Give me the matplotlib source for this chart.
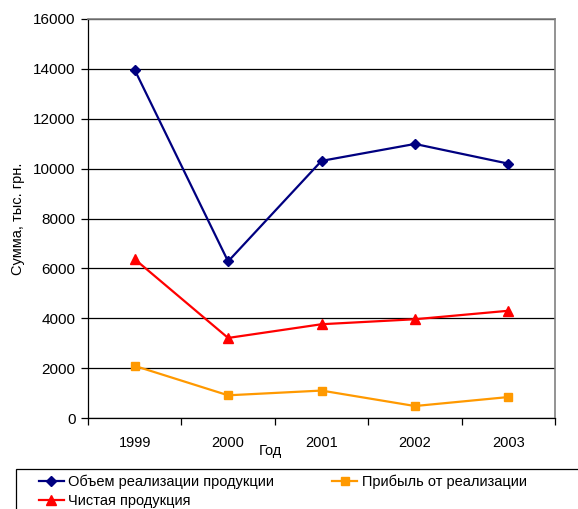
import matplotlib.pyplot as plt
from matplotlib.patches import Rectangle
from matplotlib.ticker import FixedLocator, NullFormatter

plt.rcParams['font.family'] = ['Liberation Sans', 'DejaVu Sans']

# Data
years = ['1999', '2000', '2001', '2002', '2003']
sales_volume = [13960, 6280, 10310, 10990, 10200]
sales_profit = [2090, 910, 1100, 480, 840]
net_output = [6370, 3210, 3760, 3960, 4300]

W, H = 578, 509
fig = plt.figure(figsize=(W / 100, H / 100), dpi=100)
ax = fig.add_axes([88 / W, 1 - 418 / H, (555 - 88) / W, (418 - 19) / H])

x = list(range(len(years)))
l1, = ax.plot(x, sales_volume, color='#000080', lw=1.6, marker='D', ms=5,
              label='Объем реализации продукции')
l2, = ax.plot(x, sales_profit, color='#FF9900', lw=1.6, marker='s', ms=6,
              label='Прибыль от реализации')
l3, = ax.plot(x, net_output, color='#FF0000', lw=1.6, marker='^', ms=7,
              label='Чистая продукция')

ax.set_xlim(-0.5, len(years) - 0.5)
ax.set_ylim(0, 16000)
ax.set_yticks(range(0, 16001, 2000))
ax.yaxis.grid(True, color='black', lw=0.9)
ax.set_axisbelow(True)

ax.set_xticks(x)
ax.set_xticklabels(years)
ax.xaxis.set_minor_locator(FixedLocator([i - 0.5 for i in range(len(years) + 1)]))
ax.xaxis.set_minor_formatter(NullFormatter())
ax.tick_params(axis='x', which='major', length=0, pad=13, labelsize=10.5)
ax.tick_params(axis='x', which='minor', length=5, width=0.9, direction='out')
ax.tick_params(axis='y', length=5, width=0.9, direction='out', pad=4, labelsize=11)

for side in ('top', 'right'):
    ax.spines[side].set_color('#808080')
    ax.spines[side].set_linewidth(1.2)
for side in ('left', 'bottom'):
    ax.spines[side].set_color('black')
    ax.spines[side].set_linewidth(0.9)

ax.set_xlabel('Год', fontsize=10.5)
ax.xaxis.set_label_coords(0.39, -0.083)
ax.xaxis.label.set_va('center')
ax.set_ylabel('Сумма, тыс. грн.', fontsize=10.5)
ax.yaxis.set_label_coords(-0.15, 0.5)
ax.yaxis.label.set_va('center')

# Legend box running off the lower right corner
fig.patches.append(Rectangle((16 / W, -0.05), 1.0, 1 - 469 / H + 0.05,
                             transform=fig.transFigure, fill=False,
                             edgecolor='black', lw=0.9))
# column-wise fill: first row holds volume and profit, second row net output
fig.legend(handles=[l1, l3, l2], ncol=2, frameon=False, fontsize=10.5,
           loc='upper left', bbox_to_anchor=(36 / W, 1 - 472 / H),
           handlelength=1.7, handletextpad=0.3, columnspacing=4.0,
           labelspacing=0.3, borderaxespad=0, borderpad=0.2)

fig.savefig('out.png', dpi=100)
